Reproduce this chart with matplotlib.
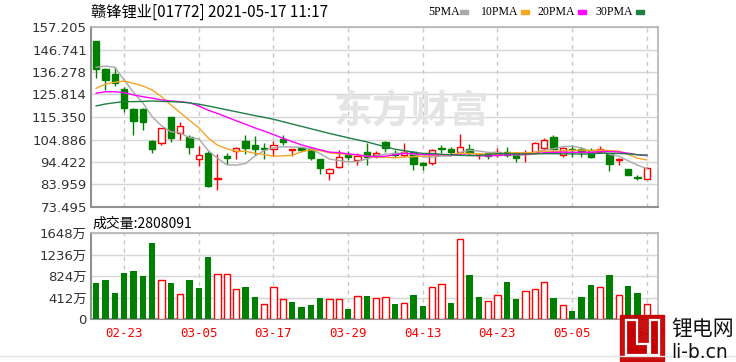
import matplotlib
matplotlib.use('Agg')
import matplotlib.pyplot as plt
from matplotlib.patches import Rectangle, Polygon
from matplotlib.lines import Line2D

plt.rcParams['font.family'] = ['DejaVu Sans', 'Noto Sans CJK SC']

# daily candles 2021-02-18 .. 2021-05-17
opens = [150.5, 137.5, 135.4, 128.2, 119.1, 119.2, 104.2, 103.1, 115.2, 108.1,
         106.2, 95.8, 98.8, 86.4, 97.2, 99.5, 104.2, 102.3, 101.1, 100.5,
         105.0, 100.0, 101.0, 100.3, 95.7, 89.2, 92.0, 97.7, 95.4, 99.2,
         97.7, 103.9, 98.7, 97.7, 99.2, 93.8, 93.8, 101.1, 100.3, 99.2,
         100.3, 97.7, 98.5, 98.1, 99.2, 98.5, 98.2, 99.2, 100.8, 105.9,
         97.7, 100.5, 100.3, 100.0, 99.2, 98.0, 95.5, 91.0, 87.6, 86.5]
highs = [150.5, 138.0, 138.6, 129.5, 119.5, 119.5, 104.5, 110.3, 115.5, 113.2,
         107.0, 101.9, 99.5, 98.0, 98.7, 101.5, 107.0, 106.5, 103.4, 104.2,
         107.0, 100.5, 101.5, 100.8, 96.0, 91.5, 100.0, 99.7, 98.7, 103.4,
         99.5, 104.2, 100.0, 103.1, 99.5, 94.6, 100.5, 102.3, 101.5, 107.4,
         102.7, 98.2, 98.7, 100.8, 101.5, 98.7, 100.0, 103.9, 105.4, 107.0,
         101.3, 102.3, 101.5, 100.8, 101.8, 98.2, 96.3, 91.3, 88.4, 92.0]
lows = [133.5, 128.0, 129.6, 117.5, 107.0, 109.3, 98.5, 102.5, 103.9, 104.7,
        98.0, 92.6, 83.0, 81.4, 93.4, 95.7, 98.0, 97.7, 95.7, 97.2,
        102.3, 97.2, 99.0, 95.5, 88.7, 86.1, 91.5, 95.4, 93.0, 93.0,
        96.5, 98.9, 96.9, 96.9, 90.7, 90.7, 93.0, 98.5, 97.7, 97.7,
        97.7, 95.7, 95.7, 96.9, 96.9, 94.3, 94.3, 98.5, 100.0, 99.8,
        96.9, 96.9, 96.9, 96.1, 98.5, 90.2, 93.0, 88.2, 86.1, 86.3]
closes = [137.5, 132.5, 131.2, 119.4, 113.6, 112.9, 100.5, 110.1, 105.4, 111.2,
          101.5, 97.7, 83.3, 87.1, 96.1, 100.8, 101.1, 100.3, 100.3, 102.3,
          103.6, 100.5, 100.0, 96.1, 91.5, 91.0, 96.9, 96.9, 97.2, 96.9,
          98.7, 100.8, 97.7, 99.2, 93.5, 93.0, 100.0, 100.4, 99.2, 101.3,
          98.7, 98.0, 97.4, 99.2, 97.7, 96.1, 98.6, 103.1, 104.7, 100.3,
          100.8, 100.0, 99.2, 96.9, 100.3, 93.4, 95.9, 88.4, 86.8, 91.8]

ma5 = [138.5, 139.0, 138.5, 132.6, 126.8, 121.9, 115.5, 111.3, 108.5, 108.0,
       105.7, 105.2, 99.8, 96.2, 93.1, 93.0, 93.7, 97.1, 99.7, 101.0,
       101.5, 101.4, 101.3, 100.5, 98.3, 95.8, 95.1, 94.5, 94.7, 95.8,
       97.3, 98.1, 98.3, 98.7, 98.0, 96.8, 96.7, 97.2, 97.2, 98.8,
       99.9, 99.5, 98.9, 98.9, 98.2, 97.7, 97.8, 98.9, 100.0, 100.6,
       101.5, 101.8, 101.0, 99.4, 99.4, 98.0, 97.2, 95.0, 93.0, 91.3]
ma10 = [128.7, 130.6, 131.5, 132.1, 131.0, 129.8, 127.9, 124.8, 121.0, 117.4,
        113.8, 110.4, 105.6, 102.3, 100.6, 99.4, 99.4, 98.5, 97.9, 97.1,
        97.3, 97.5, 99.2, 100.1, 99.7, 98.7, 98.3, 97.9, 97.6, 97.1,
        96.6, 96.6, 96.4, 96.7, 96.9, 97.1, 97.4, 97.7, 97.9, 98.4,
        98.4, 98.1, 98.1, 98.1, 98.5, 98.8, 98.7, 98.9, 99.5, 99.4,
        99.6, 99.8, 100.0, 99.7, 100.0, 99.7, 99.5, 98.0, 96.2, 95.4]
ma20 = [126.4, 127.1, 127.1, 126.7, 125.6, 124.8, 124.1, 123.3, 122.8, 122.5,
        122.0, 120.5, 118.5, 117.0, 115.3, 113.6, 112.0, 110.3, 108.8, 107.2,
        105.5, 103.9, 102.4, 101.2, 100.1, 99.0, 98.8, 98.2, 97.8, 97.1,
        96.9, 97.1, 97.8, 98.4, 98.3, 97.9, 97.8, 97.8, 97.8, 97.7,
        97.5, 97.4, 97.2, 97.4, 97.7, 97.9, 98.0, 98.3, 98.7, 98.9,
        99.0, 98.9, 99.0, 98.9, 99.2, 99.3, 99.1, 98.5, 97.8, 97.4]
ma30 = [120.5, 121.4, 122.0, 122.5, 122.5, 122.6, 122.8, 122.6, 122.5, 122.3,
        121.9, 121.3, 120.5, 119.6, 118.7, 117.8, 116.9, 116.0, 115.2, 114.3,
        113.2, 112.1, 111.0, 109.9, 108.8, 107.7, 106.7, 105.7, 104.7, 103.8,
        102.6, 101.5, 100.4, 99.7, 99.0, 98.4, 98.4, 98.0, 97.8, 97.5,
        97.4, 97.4, 97.9, 98.3, 98.3, 98.2, 98.1, 98.2, 98.3, 98.3,
        98.2, 98.2, 98.1, 98.2, 98.5, 98.5, 98.4, 98.2, 97.8, 97.6]

# volume in 万 shares, 1 = red (up day)
volume = [684, 747, 492, 876, 920, 824, 1450, 747, 684, 479,
          747, 588, 1182, 862, 862, 569, 619, 427, 282, 619,
          377, 332, 236, 268, 408, 383, 383, 192, 446, 441,
          396, 427, 287, 312, 460, 249, 619, 671, 312, 1533,
          843, 415, 345, 460, 703, 377, 536, 575, 703, 396,
          268, 153, 415, 651, 619, 843, 460, 632, 492, 281]
vol_up = [0, 0, 0, 0, 0, 0, 0, 1, 0, 1,
          0, 0, 0, 1, 1, 1, 0, 0, 1, 1,
          1, 0, 0, 0, 0, 1, 1, 0, 1, 0,
          1, 1, 0, 1, 0, 0, 1, 1, 0, 1,
          0, 0, 1, 1, 0, 0, 1, 1, 1, 0,
          1, 0, 0, 0, 1, 0, 1, 0, 0, 1]

date_pos = [3, 11, 19, 27, 35, 43, 51, 59]
date_labels = ['02-23', '03-05', '03-17', '03-29', '04-13', '04-23', '05-05', '05-17']
price_ticks = [73.495, 83.959, 94.422, 104.886, 115.350, 125.814, 136.278, 146.741, 157.205]
vol_ticks = [0, 412, 824, 1236, 1648]
vol_tick_labels = ['0', '412万', '824万', '1236万', '1648万']

ma_names = ['5PMA', '10PMA', '20PMA', '30PMA']
ma_colors = ['#a8a8a8', '#f5a623', '#ff00ff', '#1e7f45']

RED = '#ff0000'
GREEN = '#008000'
W, H = 736, 362


def fx(px):
    return px / W


def fy(py):
    return 1 - py / H


fig = plt.figure(figsize=(W / 100, H / 100), dpi=100)
ax = fig.add_axes([fx(91), fy(207), 567 / W, 180 / H])
axv = fig.add_axes([fx(91), fy(319), 567 / W, 86 / H])

# candles
w = 0.66
for i in range(len(closes)):
    o, hi, lo, c = opens[i], highs[i], lows[i], closes[i]
    up = c >= o
    col = RED if up else GREEN
    b0, b1 = min(o, c), max(o, c)
    ax.vlines(i, lo, b0, color=col, lw=1, zorder=3)
    ax.vlines(i, b1, hi, color=col, lw=1, zorder=3)
    ax.add_patch(Rectangle((i - w / 2, b0), w, max(b1 - b0, 0.25),
                           facecolor='white' if up else col, edgecolor=col,
                           lw=1, zorder=4))

xs = list(range(len(closes)))
for ma, col in zip([ma5, ma10, ma20, ma30], ma_colors):
    ax.plot(xs, ma, color=col, lw=1.0, zorder=5)

# volume bars
for i in range(len(volume)):
    if vol_up[i]:
        axv.bar(i, volume[i], width=0.7, facecolor='white', edgecolor=RED, lw=1, zorder=3)
    else:
        axv.bar(i, volume[i], width=0.7, color=GREEN, zorder=3)

for a in (ax, axv):
    a.set_xlim(-0.55, 60.2)
    a.set_xticks(date_pos)
    a.set_axisbelow(True)
    a.yaxis.grid(True, color='#d6d6d6', lw=1, ls='-')
    a.xaxis.grid(True, color='#c8c8c8', lw=1, ls=(0, (3, 3)))
    a.tick_params(axis='both', length=0)
    a.tick_params(axis='y', pad=3, labelsize=9.5, labelcolor='#333333')
    for s in ('left', 'bottom'):
        a.spines[s].set_color('#909090')
        a.spines[s].set_linewidth(1.5)
    for s in ('top', 'right'):
        a.spines[s].set_color('#b4b4b4')
        a.spines[s].set_linewidth(1.2)

ax.set_ylim(price_ticks[0], price_ticks[-1])
ax.set_yticks(price_ticks)
ax.set_yticklabels(['%.3f' % t for t in price_ticks])
ax.tick_params(axis='x', labelbottom=False)

axv.set_ylim(0, 1648)
axv.set_yticks(vol_ticks)
axv.set_yticklabels(vol_tick_labels)
axv.set_xticklabels(date_labels, color=RED, fontfamily='DejaVu Sans Mono', fontsize=9)
axv.tick_params(axis='x', pad=6)

# watermark
ax.text(0.565, 0.53, '东方财富', transform=ax.transAxes, fontsize=28, color='#e4e4e4',
        fontweight='bold', ha='center', va='center', zorder=1,
        family=['Noto Sans CJK SC'])

# header
fig.text(fx(91), fy(12), '赣锋锂业[01772] 2021-05-17 11:17', fontsize=11,
         va='center', ha='left', family=['Noto Sans CJK SC'])
fig.text(fx(92), fy(224), '成交量:2808091', fontsize=10,
         va='center', ha='left', family=['Noto Sans CJK SC'])

leg_x = [428, 481, 537, 595]
sw_x = [460, 521, 578, 636]
for name, col, lx, sx in zip(ma_names, ma_colors, leg_x, sw_x):
    fig.text(fx(lx), fy(12), name, fontsize=8.5, va='center', ha='left',
             family=['Liberation Serif'])
    fig.add_artist(Rectangle((fx(sx), fy(14)), 8 / W, 4 / H,
                             transform=fig.transFigure, color=col))

# bottom line and site logo
fig.add_artist(Line2D([0, 1], [fy(356), fy(356)], color='#e2e2e2', lw=1,
                      transform=fig.transFigure))
fig.add_artist(Rectangle((fx(620), fy(361)), 44 / W, 46 / H,
                         transform=fig.transFigure, color='#c40000', alpha=0.93))
logo_L = [(626, 320), (637, 320), (637, 344), (648, 344), (648, 355), (626, 355)]
logo_I = [(650, 320), (659, 320), (659, 355), (650, 355)]
for shape in (logo_L, logo_I):
    fig.add_artist(Polygon([(fx(px), fy(py)) for px, py in shape], closed=True,
                           transform=fig.transFigure, facecolor='#c40000',
                           edgecolor='white', lw=1.6))
fig.text(fx(671), fy(329), '锂电网', fontsize=15, color='#111111',
         ha='left', va='center', family=['Noto Sans CJK SC'])
fig.text(fx(671), fy(352), 'li-b.cn', fontsize=13.5, color='#111111',
         ha='left', va='center')

fig.savefig('out.png', dpi=100)
